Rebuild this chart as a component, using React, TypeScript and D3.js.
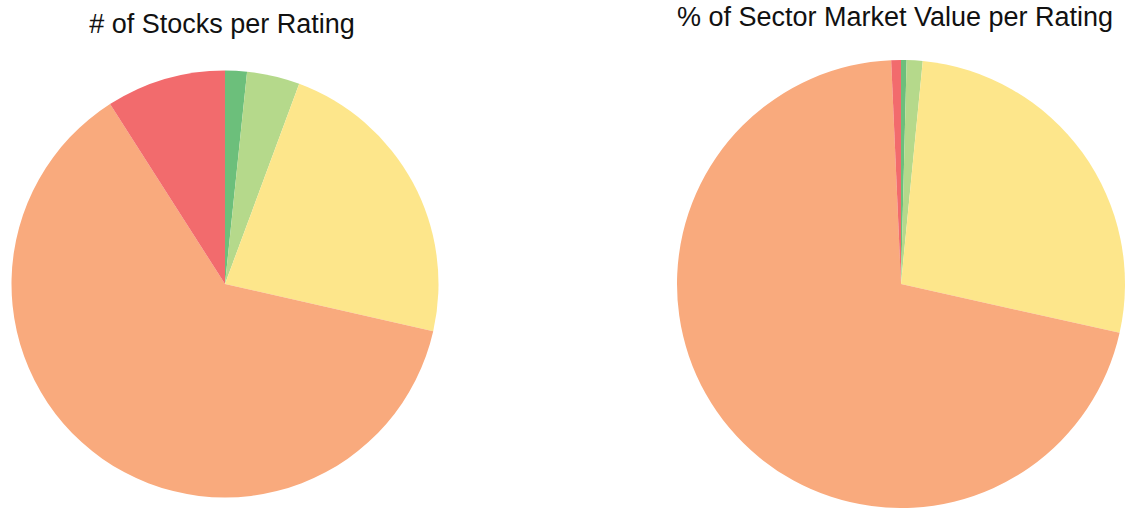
import React from "react";
import * as d3 from "d3";

const ratings = ["Strong Buy", "Buy", "Hold", "Sell", "Strong Sell"];
const colors = ["#6cbf7b", "#b5d98b", "#fde68b", "#f9aa7d", "#f26b6d"];
const stocksPerRating = [1.65, 4.0, 22.9, 62.4, 9.05];
const marketValuePerRating = [0.4, 1.15, 26.95, 70.8, 0.7];
const titles = ["# of Stocks per Rating", "% of Sector Market Value per Rating"];

const W = 1128;
const H = 508;

function Pie({ values, cx, cy, r, title, tx, ty }: any) {
  const pie = d3.pie<number>().value((d) => d).sort(null);
  const arc = d3.arc<d3.PieArcDatum<number>>().innerRadius(0).outerRadius(r);
  const arcs = pie(values);
  return (
    <g>
      <g transform={`translate(${cx},${cy})`}>
        {arcs.map((a, i) => (
          <path key={ratings[i]} d={arc(a) || ""} fill={colors[i]} />
        ))}
      </g>
      <text
        x={tx}
        y={ty}
        textAnchor="middle"
        fontFamily="Liberation Sans, Arial, sans-serif"
        fontSize={27}
        fill="#111"
      >
        {title}
      </text>
    </g>
  );
}

export default function App() {
  return (
    <svg
      width={W}
      height={H}
      style={{ position: "absolute", left: 0, top: 0, background: "#fff" }}
    >
      <Pie values={stocksPerRating} cx={225} cy={284} r={213.5} title={titles[0]} tx={222} ty={33} />
      <Pie values={marketValuePerRating} cx={901} cy={284} r={224} title={titles[1]} tx={895} ty={26} />
    </svg>
  );
}
